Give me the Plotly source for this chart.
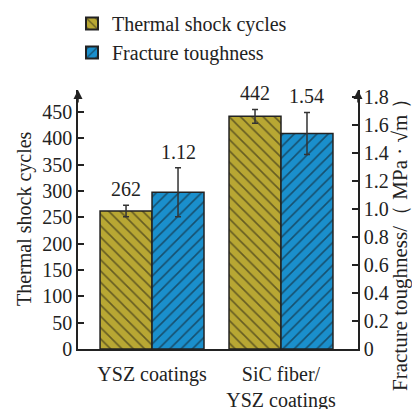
import plotly.graph_objects as go

categories = ["YSZ coatings", "SiC fiber/<br>YSZ coatings"]
cat_pos = [0, 1]
thermal_cycles = [262, 442]
thermal_err = [11, 13]
toughness = [1.12, 1.54]
toughness_err = [0.175, 0.15]
left_ticks = [0, 50, 100, 150, 200, 250, 300, 350, 400, 450]
right_ticks = [0, 0.2, 0.4, 0.6, 0.8, 1.0, 1.2, 1.4, 1.6, 1.8]
right_ticktext = ["0", "0.2", "0.4", "0.6", "0.8", "1.0", "1.2", "1.4", "1.6", "1.8"]

FONT = "Liberation Serif, Times New Roman, serif"
OLIVE = "#b8a733"
BLUE = "#1a8fcc"
INK = "#222222"
BW = 0.403
FS = 20

fig = go.Figure()
fig.add_trace(go.Bar(
    x=cat_pos, y=thermal_cycles, name="Thermal shock cycles",
    width=BW, offset=-BW, yaxis="y",
    marker=dict(color=OLIVE, line=dict(color=INK, width=1.5),
                pattern=dict(shape="\\", fgcolor="#111111", bgcolor=OLIVE, size=8, solidity=0.2)),
    error_y=dict(type="data", array=thermal_err, color="#333333", thickness=1.5, width=3),
))
fig.add_trace(go.Bar(
    x=cat_pos, y=toughness, name="Fracture toughness",
    width=BW, offset=0, yaxis="y2",
    marker=dict(color=BLUE, line=dict(color=INK, width=1.5),
                pattern=dict(shape="/", fgcolor="#111111", bgcolor=BLUE, size=8, solidity=0.2)),
    error_y=dict(type="data", array=toughness_err, color="#333333", thickness=1.5, width=3),
))

annotations = []
for xp, v, e in zip(cat_pos, thermal_cycles, thermal_err):
    annotations.append(dict(x=xp - BW / 2, y=v + e, xref="x", yref="y", text=f"{v}",
                            showarrow=False, yanchor="bottom", yshift=3,
                            font=dict(family=FONT, size=FS, color=INK)))
for xp, v, e in zip(cat_pos, toughness, toughness_err):
    annotations.append(dict(x=xp + BW / 2, y=v + e, xref="x", yref="y2", text=f"{v:.2f}",
                            showarrow=False, yanchor="bottom", yshift=3,
                            font=dict(family=FONT, size=FS, color=INK)))
# axis arrows
for xa in [0, 1]:
    annotations.append(dict(x=xa, y=1, xref="paper", yref="paper", text="",
                            showarrow=True, ax=0, ay=14, axref="pixel", ayref="pixel",
                            arrowhead=2, arrowsize=1.2, arrowwidth=1.5, arrowcolor=INK))
# axis titles
annotations.append(dict(x=(24 - 78) / 280, y=(349 - 219) / 259, xref="paper", yref="paper",
                        text="Thermal shock cycles", textangle=-90, showarrow=False,
                        xanchor="center", yanchor="middle",
                        font=dict(family=FONT, size=FS, color=INK)))
annotations.append(dict(x=(400 - 78) / 280, y=(349 - 240) / 259, xref="paper", yref="paper",
                        text="Fracture toughness/（ MPa · √m ）", textangle=-90, showarrow=False,
                        xanchor="center", yanchor="middle",
                        font=dict(family=FONT, size=21, color=INK)))

fig.update_layout(
    width=412, height=409,
    margin=dict(l=78, r=54, t=90, b=60),
    paper_bgcolor="white", plot_bgcolor="white",
    font=dict(family=FONT, size=FS, color=INK),
    barmode="overlay",
    showlegend=True,
    legend=dict(xref="paper", yref="container", x=(72 - 78) / 280, y=0.99,
                xanchor="left", yanchor="top",
                bgcolor="rgba(0,0,0,0)", font=dict(family=FONT, size=FS, color=INK),
                tracegroupgap=0, itemsizing="constant"),
    xaxis=dict(range=[-0.574, 1.597], tickvals=cat_pos, ticktext=categories,
               showline=True, linecolor=INK, linewidth=1.5, ticks="",
               showgrid=False, zeroline=False, ticklabelstandoff=6, automargin=False,
               tickfont=dict(family=FONT, size=FS, color=INK)),
    yaxis=dict(range=[0, 492], tickvals=left_ticks, showline=True, linecolor=INK, linewidth=1.5,
               ticks="inside", ticklen=6, tickwidth=1.5, tickcolor=INK,
               showgrid=False, zeroline=False, automargin=False,
               tickfont=dict(family=FONT, size=FS, color=INK)),
    yaxis2=dict(range=[0, 1.85], overlaying="y", side="right", tickvals=right_ticks,
                ticktext=right_ticktext, showline=True, linecolor=INK, linewidth=1.5,
                ticks="inside", ticklen=6, tickwidth=1.5, tickcolor=INK,
                showgrid=False, zeroline=False, automargin=False,
                tickfont=dict(family=FONT, size=FS, color=INK)),
    annotations=annotations,
)

fig.write_html("out.html", config={"displayModeBar": False},
               post_script="document.body.style.margin='0';document.body.style.overflow='hidden';")
